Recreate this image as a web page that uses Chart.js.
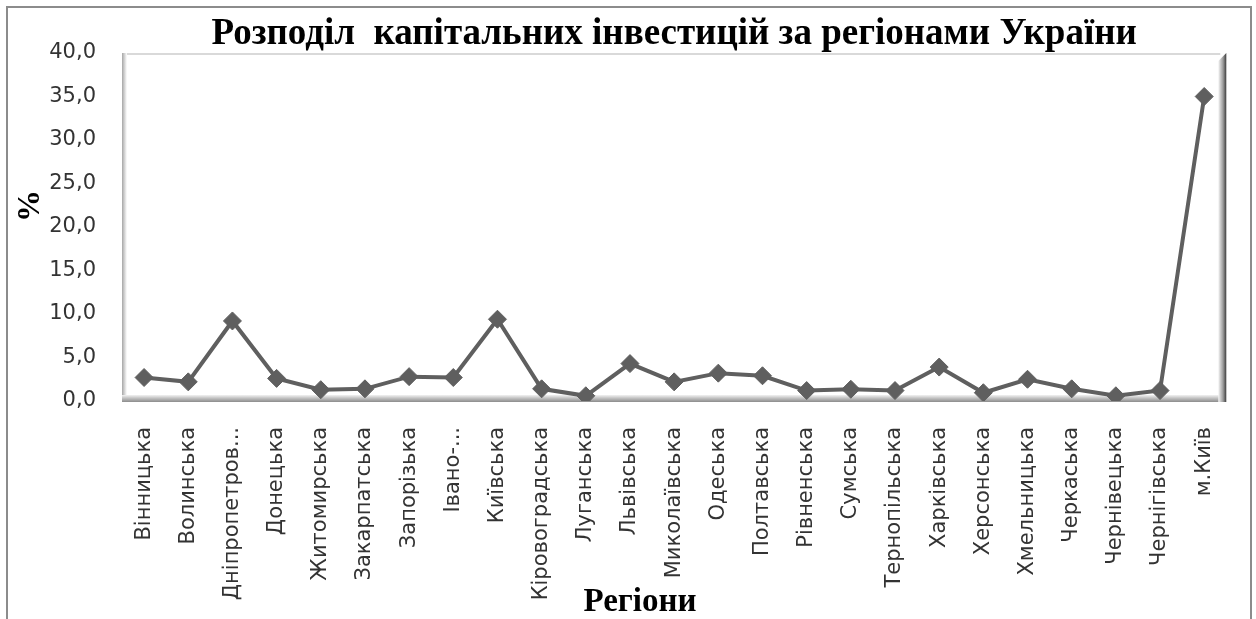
<!DOCTYPE html>
<html>
<head>
<meta charset="utf-8">
<script src="https://cdn.jsdelivr.net/npm/chart.js@4.4.1/dist/chart.umd.min.js"></script>
<style>
  body { margin: 0; background: #fff; overflow: hidden; }
  #wrap { position: relative; width: 1256px; height: 619px; }
  #frame { position: absolute; left: 6px; top: 6px; width: 1242px; height: 700px; border: 2px solid #8c8c8c; pointer-events: none; }
</style>
</head>
<body>
<div id="wrap">
  <canvas id="myChart" width="1256" height="619"></canvas>
  <div id="frame"></div>
</div>
<script>
// regions and share of capital investment, %
const regions = ['Вінницька', 'Волинська', 'Дніпропетров...', 'Донецька', 'Житомирська', 'Закарпатська',
  'Запорізька', 'Івано-...', 'Київська', 'Кіровоградська', 'Луганська', 'Львівська', 'Миколаївська',
  'Одеська', 'Полтавська', 'Рівненська', 'Сумська', 'Тернопільська', 'Харківська', 'Херсонська',
  'Хмельницька', 'Черкаська', 'Чернівецька', 'Чернігівська', 'м.Київ'];
const shares = [2.7, 2.2, 9.2, 2.6, 1.3, 1.4, 2.8, 2.7, 9.4, 1.4, 0.6, 4.3, 2.2,
  3.2, 2.9, 1.2, 1.35, 1.2, 3.9, 0.95, 2.5, 1.4, 0.6, 1.2, 35.0];
const yTicks = [0, 5, 10, 15, 20, 25, 30, 35, 40];

const chartTitle = 'Розподіл  капітальних інвестицій за регіонами України';
const yTitle = '%';
const xTitle = 'Регіони';

const lineColor = 'rgb(95, 95, 95)';
const tickFont = { family: 'DejaVu Sans', size: 21 };

// excel-like plot area frame with shadow on the right and the floor
const plotFrame = {
  id: 'plotFrame',
  beforeDatasetsDraw(chart) {
    const ctx = chart.ctx, a = chart.chartArea;
    ctx.save();
    // top and left edges
    ctx.strokeStyle = '#d9d9d9';
    ctx.lineWidth = 2;
    ctx.beginPath();
    ctx.moveTo(a.left, a.top + 1);
    ctx.lineTo(a.right - 6, a.top + 1);
    ctx.stroke();
    let g = ctx.createLinearGradient(a.left, 0, a.left + 5, 0);
    g.addColorStop(0, '#a6a6a6');
    g.addColorStop(1, '#ffffff');
    ctx.fillStyle = g;
    ctx.fillRect(a.left, a.top, 5, a.bottom - a.top);
    // floor
    g = ctx.createLinearGradient(0, a.bottom - 6, 0, a.bottom + 1);
    g.addColorStop(0, '#f2f2f2');
    g.addColorStop(0.5, '#bdbdbd');
    g.addColorStop(1, '#8c8c8c');
    ctx.fillStyle = g;
    ctx.fillRect(a.left, a.bottom - 6, a.right - a.left - 4, 7);
    // right shadow
    g = ctx.createLinearGradient(a.right - 8, 0, a.right, 0);
    g.addColorStop(0, '#f5f5f5');
    g.addColorStop(0.6, '#9a9a9a');
    g.addColorStop(1, '#3c3c3c');
    ctx.fillStyle = g;
    ctx.beginPath();
    ctx.moveTo(a.right - 8, a.top + 8);
    ctx.lineTo(a.right, a.top);
    ctx.lineTo(a.right, a.bottom + 1);
    ctx.lineTo(a.right - 8, a.bottom + 1);
    ctx.closePath();
    ctx.fill();
    ctx.restore();
  }
};

// axis titles, placed like in the excel chart
const axisTitles = {
  id: 'axisTitles',
  afterDraw(chart) {
    const ctx = chart.ctx;
    ctx.save();
    ctx.fillStyle = '#000';
    ctx.textAlign = 'center';
    ctx.textBaseline = 'middle';
    ctx.font = 'bold 32px "Liberation Serif"';
    ctx.translate(31, 206);
    ctx.rotate(-Math.PI / 2);
    ctx.fillText(yTitle, 0, 0);
    ctx.restore();
    ctx.save();
    ctx.fillStyle = '#000';
    ctx.textAlign = 'center';
    ctx.textBaseline = 'middle';
    ctx.font = 'bold 33px "Liberation Serif"';
    ctx.fillText(xTitle, 640, 602);
    ctx.restore();
  }
};

const ctx = document.getElementById('myChart').getContext('2d');
const chart = new Chart(ctx, {
  type: 'line',
  data: {
    labels: regions,
    datasets: [{
      data: shares,
      borderColor: lineColor,
      backgroundColor: lineColor,
      borderWidth: 4,
      pointStyle: 'rectRot',
      pointRadius: 9,
      pointBorderWidth: 1,
      pointBorderColor: lineColor,
      pointBackgroundColor: lineColor,
      tension: 0
    }]
  },
  options: {
    responsive: false,
    animation: false,
    layout: { padding: { left: 0, right: 28, top: 0, bottom: 0 } },
    plugins: {
      legend: { display: false },
      tooltip: { enabled: false },
      title: {
        display: true,
        text: chartTitle,
        fullSize: false,
        color: '#000',
        font: { family: 'Liberation Serif', size: 37, weight: 'bold', lineHeight: 1 },
        padding: { top: 16, bottom: 0 }
      }
    },
    scales: {
      x: {
        offset: true,
        grid: { display: false, drawTicks: false },
        border: { display: false },
        ticks: {
          autoSkip: false,
          maxRotation: 90,
          minRotation: 90,
          padding: 26,
          color: '#333',
          font: tickFont
        },
        afterFit(scale) { scale.height = 218; }
      },
      y: {
        min: 0,
        max: 40,
        grid: { display: false, drawTicks: false },
        border: { display: false },
        afterBuildTicks(scale) { scale.ticks = yTicks.map(v => ({ value: v })); },
        ticks: {
          padding: 26,
          color: '#333',
          font: tickFont,
          callback: v => v.toFixed(1).replace('.', ',')
        },
        afterFit(scale) { scale.width = 122; }
      }
    }
  },
  plugins: [plotFrame, axisTitles]
});
</script>
</body>
</html>
